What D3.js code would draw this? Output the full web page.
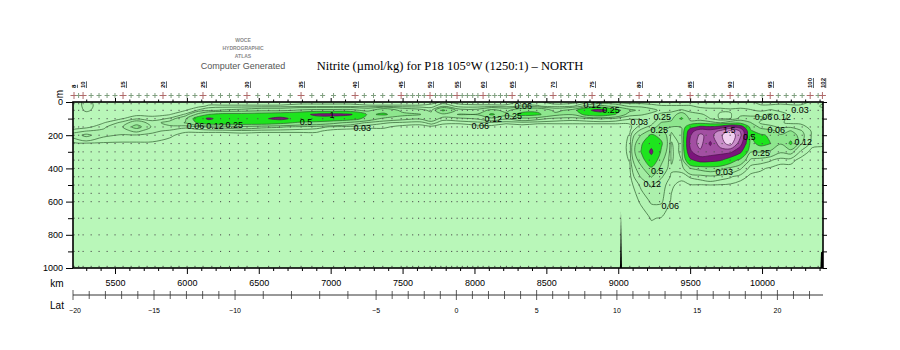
<!DOCTYPE html>
<html>
<head>
<meta charset="utf-8">
<script src="https://cdn.jsdelivr.net/npm/d3@7"></script>
<style>
  body { margin: 0; background: #fff; }
  svg { display: block; }
</style>
</head>
<body>
<div id="chart"></div>
<script>
// grid columns (km along track) and depth rows (m)
const colKm = [5208, 5300, 5420, 5550, 5650, 5760, 5880, 5990, 6080, 6150,
               6250, 6380, 6520, 6650, 6780, 6900, 7020, 7140, 7260, 7370,
               7500, 7620, 7700, 7780, 7900, 8020, 8120, 8220, 8330, 8440,
               8560, 8680, 8780, 8880, 8980, 9080, 9160, 9230, 9300, 9370,
               9440, 9500, 9570, 9640, 9710, 9780, 9850, 9920, 9990, 10060,
               10130, 10200, 10270, 10350, 10424];
const depths = [0, 25, 50, 75, 100, 125, 150, 175, 200, 250, 300, 350, 400, 450, 500, 600, 700, 850, 1000];

// nitrite profiles, one per grid column, values at the depths above (umol/kg)
const profiles = [
  [.01,.01,.01,.01,.01,.012,.015,.04,.08,.02,.01,.01,.01, .01,.01,.01,.01,.01,.01],
  [.04,.04,.035,.02,.015,.015,.02,.06,.14,.025,.01,.01,.01, .01,.01,.01,.01,.01,.01],
  [.01,.015,.015,.015,.02,.028,.05,.07,.07,.025,.01,.01,.01, .01,.01,.01,.01,.01,.01],
  [.01,.015,.02,.02,.028,.07,.11,.09,.055,.025,.01,.01,.01, .01,.01,.01,.01,.01,.01],
  [.01,.015,.02,.022,.05,.18,.32,.14,.055,.025,.01,.01,.01, .01,.01,.01,.01,.01,.01],
  [.01,.015,.02,.022,.04,.08,.1,.07,.05,.025,.01,.01,.01, .01,.01,.01,.01,.01,.01],
  [.01,.015,.02,.028,.065,.16,.1,.05,.035,.02,.01,.01,.01, .01,.01,.01,.01,.01,.01],
  [.01,.015,.028,.065,.22,.26,.07,.035,.02,.015,.01,.01,.01, .01,.01,.01,.01,.01,.01],
  [.01,.02,.065,.3,.7,.55,.1,.035,.02,.012,.01,.01,.01, .01,.01,.01,.01,.01,.01],
  [.015,.035,.1,.5,1.1,.7,.13,.035,.02,.012,.01,.01,.01, .01,.01,.01,.01,.01,.01],
  [.015,.035,.13,.6,.8,.7,.15,.035,.02,.012,.01,.01,.01, .01,.01,.01,.01,.01,.01],
  [.015,.035,.15,.6,.85,.7,.2,.04,.02,.012,.01,.01,.01, .01,.01,.01,.01,.01,.01],
  [.015,.035,.2,.65,.9,.7,.15,.035,.02,.012,.01,.01,.01, .01,.01,.01,.01,.01,.01],
  [.015,.035,.2,.7,1.15,.6,.13,.035,.02,.012,.01,.01,.01, .01,.01,.01,.01,.01,.01],
  [.02,.04,.27,.8,.8,.45,.1,.035,.02,.012,.01,.01,.01, .01,.01,.01,.01,.01,.01],
  [.02,.04,.3,1.1,.8,.4,.08,.035,.02,.012,.01,.01,.01, .01,.01,.01,.01,.01,.01],
  [.02,.04,.3,1.15,.75,.3,.05,.02,.015,.01,.01,.01,.01, .01,.01,.01,.01,.01,.01],
  [.02,.04,.3,1.05,.65,.2,.04,.02,.015,.01,.01,.01,.01, .01,.01,.01,.01,.01,.01],
  [.015,.035,.2,.45,.4,.1,.035,.02,.012,.01,.01,.01,.01, .01,.01,.01,.01,.01,.01],
  [.015,.035,.4,.55,.2,.065,.035,.02,.012,.01,.01,.01,.01, .01,.01,.01,.01,.01,.01],
  [.015,.035,.2,.3,.15,.05,.02,.015,.01,.01,.01,.01,.01, .01,.01,.01,.01,.01,.01],
  [.015,.035,.15,.26,.13,.04,.02,.015,.01,.01,.01,.01,.01, .01,.01,.01,.01,.01,.01],
  [.02,.04,.1,.15,.2,.08,.02,.015,.01,.01,.01,.01,.01, .01,.01,.01,.01,.01,.01],
  [.035,.1,.55,.2,.08,.035,.02,.012,.01,.01,.01,.01,.01, .01,.01,.01,.01,.01,.01],
  [.02,.04,.15,.26,.1,.035,.015,.01,.01,.01,.01,.01,.01, .01,.01,.01,.01,.01,.01],
  [.02,.035,.15,.26,.13,.045,.02,.01,.01,.01,.01,.01,.01, .01,.01,.01,.01,.01,.01],
  [.02,.035,.3,.55,.2,.05,.02,.01,.01,.01,.01,.01,.01, .01,.01,.01,.01,.01,.01],
  [.02,.035,.2,.3,.13,.035,.015,.01,.01,.01,.01,.01,.01, .01,.01,.01,.01,.01,.01],
  [.035,.07,.4,.6,.2,.04,.02,.01,.01,.01,.01,.01,.01, .01,.01,.01,.01,.01,.01],
  [.035,.065,.45,.55,.15,.035,.015,.01,.01,.01,.01,.01,.01, .01,.01,.01,.01,.01,.01],
  [.02,.04,.2,.3,.1,.035,.015,.01,.01,.01,.01,.01,.01, .01,.01,.01,.01,.01,.01],
  [.02,.05,.3,.26,.08,.035,.015,.01,.01,.01,.01,.01,.01, .01,.01,.01,.01,.01,.01],
  [.035,.15,.9,.6,.1,.035,.015,.01,.01,.01,.01,.01,.01, .01,.01,.01,.01,.01,.01],
  [.035,.3,1.2,.7,.13,.035,.015,.01,.01,.01,.01,.01,.01, .01,.01,.01,.01,.01,.01],
  [.035,.2,.6,.5,.1,.035,.015,.01,.01,.01,.01,.01,.01, .01,.01,.01,.01,.01,.01],
  [.035,.1,.3,.15,.065,.035,.02,.025,.032,.036,.036,.032,.025, .02,.015,.01,.01,.01,.01],
  [.035,.1,.2,.13,.065,.05,.08,.15,.26,.45,.52,.35,.2, .13,.07,.035,.015,.01,.01],
  [.035,.08,.15,.1,.065,.08,.15,.3,.55,.85,1.1,.8,.45, .26,.13,.065,.032,.01,.01],
  [.035,.065,.1,.13,.15,.26,.35,.3,.4,.55,.45,.3,.2, .13,.08,.065,.028,.01,.01],
  [.035,.065,.1,.15,.2,.3,.25,.13,.1,.05,.04,.05,.07, .05,.035,.025,.012,.01,.01],
  [.035,.065,.13,.35,.55,.3,.26,.2,.2,.15,.15,.12,.08, .04,.02,.015,.01,.01,.01],
  [.035,.065,.1,.15,.2,.3,.8,1.3,1.45,1.6,1.4,.9,.25, .065,.028,.015,.01,.01,.01],
  [.035,.05,.08,.13,.15,.4,1.1,1.8,2.1,2.2,1.9,1.2,.3, .08,.028,.015,.01,.01,.01],
  [.035,.05,.07,.1,.12,.3,1.05,1.7,1.8,1.4,1.8,1.15,.35, .1,.03,.015,.01,.01,.01],
  [.035,.05,.07,.05,.05,.25,1.2,2.1,2.4,2.3,1.7,1.05,.3, .08,.028,.015,.01,.01,.01],
  [.035,.05,.065,.055,.055,.35,1.6,2.6,2.9,2.7,1.6,.7,.2, .065,.025,.015,.01,.01,.01],
  [.035,.05,.07,.1,.15,.4,1.3,1.95,2.1,1.7,1.1,.4,.13, .04,.02,.015,.01,.01,.01],
  [.035,.04,.065,.1,.15,.26,.4,.55,.5,.4,.26,.1,.04, .025,.02,.015,.01,.01,.01],
  [.02,.035,.05,.1,.14,.1,.2,.35,.55,.6,.26,.08,.035, .02,.015,.01,.01,.01,.01],
  [.02,.035,.065,.13,.1,.07,.15,.3,.45,.5,.2,.065,.025, .015,.01,.01,.01,.01,.01],
  [.02,.04,.05,.08,.07,.065,.1,.2,.26,.26,.13,.04,.02, .015,.01,.01,.01,.01,.01],
  [.02,.035,.04,.05,.05,.05,.1,.26,.4,.55,.15,.04,.02, .01,.01,.01,.01,.01,.01],
  [.02,.035,.035,.04,.05,.05,.08,.13,.15,.13,.05,.02,.015, .01,.01,.01,.01,.01,.01],
  [.035,.04,.035,.035,.04,.04,.04,.05,.05,.04,.02,.015,.01, .01,.01,.01,.01,.01,.01],
  [.05,.07,.04,.035,.035,.035,.035,.035,.04,.035,.02,.01,.01, .01,.01,.01,.01,.01,.01]
];

const levels = [0.03, 0.06, 0.12, 0.25, 0.5, 1, 1.5, 2, 2.5];
const bandColors = ["#b9f7b9", "#b3f4b3", "#acf0ac", "#a2eca2", "#8ee68e",
                    "#1ee41e", "#7c157c", "#a24fa2", "#c98ec9", "#f0d0f0"];

// stations 8..102 along the track (km)
const firstStation = 8;
const stationKm = [5215, 5247, 5278, 5334, 5389, 5445, 5500, 5556, 5612, 5667,
                   5723, 5778, 5834, 5890, 5945, 6001, 6056, 6112, 6173, 6234,
                   6296, 6357, 6418, 6493, 6568, 6644, 6719, 6794, 6869, 6944,
                   7020, 7095, 7170, 7234, 7298, 7362, 7426, 7490, 7530, 7570,
                   7611, 7651, 7691, 7729, 7766, 7804, 7841, 7879, 7915, 7951,
                   7988, 8024, 8060, 8100, 8141, 8181, 8222, 8262, 8319, 8376,
                   8433, 8490, 8547, 8601, 8655, 8710, 8764, 8818, 8883, 8949,
                   9014, 9080, 9145, 9216, 9287, 9358, 9429, 9500, 9556, 9611,
                   9667, 9722, 9778, 9834, 9890, 9945, 10001, 10057, 10113, 10168,
                   10224, 10279, 10335, 10390, 10420];
const labelStations = [8, 10, 15, 20, 25, 30, 35, 40, 45, 50, 55, 60, 65, 70,
                       75, 80, 85, 90, 95, 100, 102];
const sampleDepths = [10, 50, 100, 150, 200, 250, 300, 350, 400, 450, 500, 550, 600, 700, 800, 900, 990];

const kmTicks = [5500, 6000, 6500, 7000, 7500, 8000, 8500, 9000, 9500, 10000];
const depthTicks = [0, 200, 400, 600, 800, 1000];
const latTicks = [-20, -15, -10, -5, 0, 5, 10, 15, 20];
// latitude along the track (piecewise)
const latKnots = [-20, -10, -5, 20];
const latKnotKm = [5208, 6335, 7316, 10107];

const contourLabels = [
  [6060, 146, "0.06"], [6195, 146, "0.12"], [6330, 140, "0.25"],
  [6829, 120, "0.5"], [7010, 78, "1"], [7219, 156, "0.03"],
  [8040, 142, "0.06"], [8130, 100, "0.12"], [8270, 84, "0.25"], [8339, 24, "0.06"],
  [8820, 20, "0.12"], [8950, 50, "0.25"],
  [9146, 120, "0.03"], [9306, 90, "0.25"], [9285, 168, "0.25"], [9271, 414, "0.5"],
  [9236, 492, "0.12"], [9361, 625, "0.06"],
  [9737, 420, "0.03"], [9772, 168, "1.5"], [9911, 210, "0.5"], [9994, 306, "0.25"],
  [10099, 168, "0.06"], [10010, 92, "0.06"], [10140, 92, "0.12"],
  [10286, 240, "0.12"], [10265, 46, "0.03"]
];

// bottom topography reaching into the section
const seafloor = [
  [[9012, 1000], [9019, 660], [9026, 1000]],
  [[10406, 1000], [10410, 905], [10424, 900], [10424, 1000]]
];

const width = 900, height = 350;
const x = d3.scaleLinear().domain([5208, 10424]).range([73, 823]);
const y = d3.scaleLinear().domain([0, 1000]).range([102, 268]);
const latKm = d3.scaleLinear().domain(latKnots).range(latKnotKm);

const svg = d3.select("#chart").append("svg")
    .attr("width", width)
    .attr("height", height)
    .style("font-family", "'Liberation Sans', Arial, sans-serif");

svg.append("defs").append("clipPath").attr("id", "plotClip")
  .append("rect")
    .attr("x", x(5208)).attr("y", y(0))
    .attr("width", x(10424) - x(5208)).attr("height", y(1000) - y(0));

// header
const logo = svg.append("g").attr("fill", "#8a8a8a").attr("font-weight", "bold")
    .attr("font-size", 5).attr("text-anchor", "middle");
logo.append("text").attr("x", 243).attr("y", 42).text("WOCE");
logo.append("text").attr("x", 243).attr("y", 50).text("HYDROGRAPHIC");
logo.append("text").attr("x", 243).attr("y", 58).text("ATLAS");
svg.append("text").attr("x", 243).attr("y", 69).attr("text-anchor", "middle")
    .attr("font-size", 9).attr("fill", "#555").text("Computer Generated");
svg.append("text").attr("x", 450).attr("y", 70).attr("text-anchor", "middle")
    .style("font-family", "'Liberation Serif', 'Times New Roman', serif")
    .attr("font-size", 12.5).attr("fill", "#000")
    .text("Nitrite (\u00b5mol/kg) for P18 105\u00b0W (1250:1) \u2013 NORTH");

// contour field
const nx = colKm.length, ny = depths.length;
const values = new Array(nx * ny);
for (let j = 0; j < ny; j++)
  for (let i = 0; i < nx; i++) values[j * nx + i] = profiles[i][j];

const gx = d3.scaleLinear().domain(colKm.map((d, i) => i + 0.5)).range(colKm);
const gy = d3.scaleLinear().domain(depths.map((d, i) => i + 0.5)).range(depths);
const contours = d3.contours().size([nx, ny]).thresholds(levels)(values);

const ring = d3.line()
    .x(p => x(gx(p[0])))
    .y(p => y(gy(p[1])))
    .curve(d3.curveCatmullRomClosed.alpha(0.5));

function geomPath(g) {
  return g.coordinates.map(poly => poly.map(r => ring(r.slice(0, -1))).join("")).join("");
}

const plot = svg.append("g").attr("clip-path", "url(#plotClip)");
plot.append("rect")
    .attr("x", x(5208)).attr("y", y(0))
    .attr("width", x(10424) - x(5208)).attr("height", y(1000) - y(0))
    .attr("fill", bandColors[0]);

plot.selectAll("path.band")
  .data(contours)
  .enter().append("path")
    .attr("class", "band")
    .attr("d", geomPath)
    .attr("fill", (d, i) => bandColors[i + 1])
    .attr("fill-rule", "evenodd");

plot.selectAll("path.iso")
  .data(contours)
  .enter().append("path")
    .attr("class", "iso")
    .attr("d", geomPath)
    .attr("fill", "none")
    .attr("stroke", d => d.value >= 1 ? "#4a104a" : "#2f5f2f")
    .attr("stroke-width", 0.7);

// sample dots
const dots = [];
stationKm.forEach(k => sampleDepths.forEach(z => dots.push([k, z])));
plot.selectAll("rect.dot")
  .data(dots)
  .enter().append("rect")
    .attr("class", "dot")
    .attr("x", d => x(d[0]) - 0.5)
    .attr("y", d => y(d[1]) - 0.5)
    .attr("width", 1.1).attr("height", 1.1)
    .attr("fill", "#505050");

plot.selectAll("path.floor")
  .data(seafloor)
  .enter().append("path")
    .attr("class", "floor")
    .attr("d", d => "M" + d.map(p => x(p[0]) + "," + y(p[1])).join("L") + "Z")
    .attr("fill", "#000");

// contour labels
svg.append("g")
    .attr("font-size", 9).attr("fill", "#000").attr("text-anchor", "middle")
  .selectAll("text")
  .data(contourLabels)
  .enter().append("text")
    .attr("x", d => x(d[0]))
    .attr("y", d => y(d[1]))
    .attr("dy", "0.35em")
    .text(d => d[2]);

// axes
function styleAxis(g, size) {
  g.select(".domain").remove();
  g.selectAll(".tick line").attr("stroke", "#000");
  g.selectAll(".tick text").attr("fill", "#000").attr("font-size", size)
    .style("font-family", "'Liberation Sans', Arial, sans-serif");
}

const kmMinor = d3.range(5300, 10424, 100).filter(d => d % 500 !== 0);
const depthMinor = d3.range(100, 1000, 200);

svg.append("g").attr("transform", "translate(" + x(5208) + ",0)")
    .call(d3.axisLeft(y).tickValues(depthTicks).tickSize(7).tickPadding(3).tickFormat(d3.format("d")))
    .call(g => styleAxis(g, 9));
svg.append("g").attr("transform", "translate(" + x(5208) + ",0)")
    .call(d3.axisLeft(y).tickValues(depthMinor).tickSize(5).tickFormat(""))
    .call(g => styleAxis(g, 9));
svg.append("g").attr("transform", "translate(" + x(10424) + ",0)")
    .call(d3.axisRight(y).tickValues(d3.range(0, 1001, 100)).tickSize(4).tickFormat(""))
    .call(g => styleAxis(g, 9));
svg.append("g").attr("transform", "translate(0," + y(1000) + ")")
    .call(d3.axisBottom(x).tickValues(kmTicks).tickSize(6).tickPadding(6).tickFormat(d3.format("d")))
    .call(g => styleAxis(g, 9));
svg.append("g").attr("transform", "translate(0," + y(1000) + ")")
    .call(d3.axisBottom(x).tickValues(kmMinor).tickSize(3).tickFormat(""))
    .call(g => styleAxis(g, 9));
svg.append("g").attr("transform", "translate(0," + y(0) + ")")
    .call(d3.axisTop(x).tickValues(kmTicks).tickSize(4).tickFormat(""))
    .call(g => styleAxis(g, 9));
svg.append("g").attr("transform", "translate(0," + y(0) + ")")
    .call(d3.axisTop(x).tickValues(kmMinor).tickSize(2.5).tickFormat(""))
    .call(g => styleAxis(g, 9));

svg.append("rect")
    .attr("x", x(5208)).attr("y", y(0))
    .attr("width", x(10424) - x(5208)).attr("height", y(1000) - y(0))
    .attr("fill", "none").attr("stroke", "#000").attr("stroke-width", 1.6);

svg.append("text").attr("transform", "translate(59,94) rotate(-90)")
    .attr("font-size", 10).attr("text-anchor", "middle").attr("dy", "0.35em").text("m");
svg.append("text").attr("x", 57).attr("y", 287).attr("text-anchor", "middle")
    .attr("font-size", 10).text("km");

// latitude axis
const latY = 295;
const latAll = d3.range(-20, 23, 1);
const latG = svg.append("g");
latG.append("line")
    .attr("x1", x(5208)).attr("x2", x(10424))
    .attr("y1", latY).attr("y2", latY)
    .attr("stroke", "#333").attr("stroke-width", 1);
latG.selectAll("line.lt")
  .data(latAll)
  .enter().append("line")
    .attr("class", "lt")
    .attr("x1", d => x(latKm(d))).attr("x2", d => x(latKm(d)))
    .attr("y1", d => latY - (d % 5 === 0 ? 5 : 4))
    .attr("y2", d => latY + (d % 5 === 0 ? 5 : 4))
    .attr("stroke", "#333").attr("stroke-width", 0.8);
latG.selectAll("text")
  .data(latTicks)
  .enter().append("text")
    .attr("x", d => x(latKm(d)) + (d === -20 ? 2 : 0))
    .attr("y", 313)
    .attr("text-anchor", "middle")
    .attr("font-size", 7)
    .text(d => d < 0 ? "\u2212" + Math.abs(d) : d);
svg.append("text").attr("x", 57).attr("y", 309).attr("text-anchor", "middle")
    .attr("font-size", 10).text("Lat");

// station marks along the top
const stations = stationKm.map((k, i) => ({ km: k, no: firstStation + i }));
svg.append("g").selectAll("path")
  .data(stations)
  .enter().append("path")
    .attr("d", d => {
      const s = labelStations.includes(d.no) ? 3.5 : 2.5;
      const cx = x(d.km), cy = 95.5;
      return "M" + (cx - s) + "," + cy + "H" + (cx + s) + "M" + cx + "," + (cy - s) + "V" + (cy + s);
    })
    .attr("stroke", d => labelStations.includes(d.no) ? "#b06a6a" : "#7f9f7f")
    .attr("stroke-width", 1)
    .attr("fill", "none");

svg.append("g").selectAll("text")
  .data(stations.filter(d => labelStations.includes(d.no)))
  .enter().append("text")
    .attr("transform", d => "translate(" + x(d.km) + ",88) rotate(-90)")
    .attr("dy", "0.35em")
    .attr("font-size", 6)
    .attr("font-weight", "bold")
    .attr("text-decoration", "underline")
    .text(d => d.no);
</script>
</body>
</html>
